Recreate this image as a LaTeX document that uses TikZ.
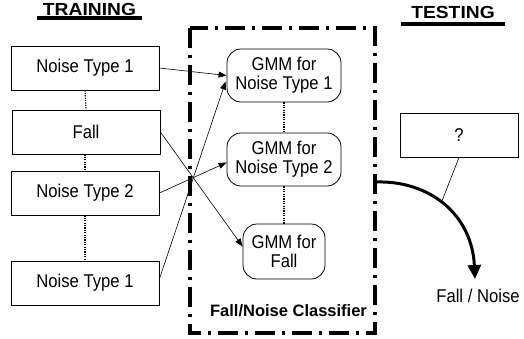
\documentclass[tikz,border=0pt]{standalone}
\usepackage{fontspec}
\setmainfont{Liberation Sans}
\newfontfamily\labelfont[FakeStretch=0.9]{Liberation Sans}
\newfontfamily\headfont[FakeStretch=1.1]{Liberation Sans}
\usetikzlibrary{arrows.meta}
\tikzset{
  plainbox/.style={draw, line width=0.8pt, minimum width=148pt, minimum height=44pt,
    inner sep=0pt, font=\labelfont\fontsize{18.5}{19}\selectfont},
  gmmbox/.style={draw, line width=0.8pt, rounded corners=14pt, inner sep=0pt,
    align=center, font=\labelfont\fontsize{18.5}{19}\selectfont},
  dotlink/.style={line width=1.2pt, dash pattern=on 1.2pt off 1.2pt},
  feed/.style={line width=0.6pt, -{Triangle[length=8pt,width=6pt]}},
  heading/.style={font=\headfont\bfseries\fontsize{17.5}{18}\selectfont, inner sep=0pt},
  underbar/.style={line width=4pt},
  classifierframe/.style={line width=3.5pt, dash pattern=on 20pt off 7pt on 3pt off 7pt}
}
\begin{document}
\begin{tikzpicture}[x=1pt, y=-1pt]
\useasboundingbox (0,0) rectangle (524,338);

% headings
\node[heading] (train) at (89.5,9) {TRAINING};
\draw[underbar] (37,18) -- (142,18);
\node[heading] (test) at (453,12) {TESTING};
\draw[underbar] (401,24) -- (505,24);

% training data
\node[plainbox] (b1) at (85,68) {Noise Type 1};
\node[plainbox] (b2) at (86,132) {Fall};
\node[plainbox] (b3) at (85,193) {Noise Type 2};
\node[plainbox] (b4) at (85,283) {Noise Type 1};
\draw[dotlink] (b1.south) -- (b2.north);
\draw[dotlink] (b2.south -| b3.north) -- (b3.north);
\draw[dotlink] (b3.south) -- (b4.north);

% classifier frame
\draw[classifierframe] (190,28) rectangle (375,333);

% models
\node[gmmbox, minimum width=114pt, minimum height=53pt] (g1) at (284,75.5) {GMM for\\Noise Type 1};
\node[gmmbox, minimum width=114pt, minimum height=53pt] (g2) at (284,159.5) {GMM for\\Noise Type 2};
\node[gmmbox, minimum width=82pt, minimum height=55pt] (g3) at (284,251.5) {GMM for\\Fall};
\draw[dotlink] (g1.south) -- (g2.north);
\draw[dotlink] (g2.south) -- (g3.north);

\node[font=\bfseries\fontsize{16.5}{17}\selectfont, inner sep=0pt] (cls) at (288.5,310.5) {Fall/Noise Classifier};

% training links
\draw[feed] (b1.east) -- (g1.west);
\draw[feed] (b2.east) -- ([yshift=5pt]g3.west);
\draw[feed] (b3.east) -- ([yshift=-3pt]g2.west);
\draw[feed] ([yshift=4pt]b4.east) -- ([yshift=-6pt,xshift=-1pt]g1.west);

% testing
\node[plainbox, minimum width=118pt] (q) at (459,135) {?};
\coordinate (out) at (375,182);
\node[font=\labelfont\fontsize{18.5}{19}\selectfont, inner sep=0pt] (res) at (478,296) {Fall / Noise};
\coordinate (tip) at (475,279);
\draw[line width=3pt, -{Triangle[length=14pt,width=13pt]}]
  (out) .. controls (430,180) and (472,215) .. (tip);
\coordinate (touch) at (442,201);
\draw[line width=0.6pt] (q.south) -- (touch);
\end{tikzpicture}
\end{document}
